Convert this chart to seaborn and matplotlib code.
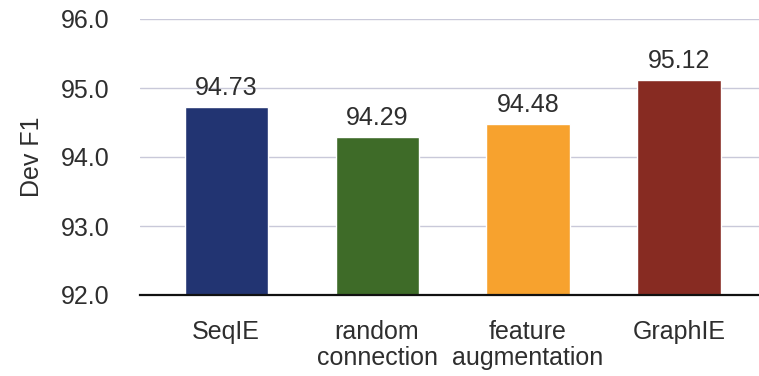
import matplotlib
matplotlib.use("Agg")
import matplotlib.pyplot as plt
import seaborn as sns
import pandas as pd

categories = ["SeqIE", "random\nconnection", "feature\naugmentation", "GraphIE"]
dev_f1 = [94.73, 94.29, 94.48, 95.12]
bar_colors = ["#223472", "#3E6B28", "#F7A22E", "#872B22"]
y_ticks = [92.0, 93.0, 94.0, 95.0, 96.0]

sns.set_theme(style="white")
plt.rcParams["font.family"] = ["Liberation Sans", "DejaVu Sans"]

df = pd.DataFrame({"model": categories, "f1": dev_f1})

fig = plt.figure(figsize=(7.59, 3.76), dpi=100)
ax = fig.add_axes([140 / 759, 1 - 295 / 376, 619 / 759, 276 / 376])

sns.barplot(data=df, x="model", y="f1", hue="model", palette=bar_colors,
            legend=False, width=0.55, saturation=1, ax=ax, zorder=3)

ax.set_ylim(92.0, 96.0)
ax.set_xlim(-0.57, 3.53)
ax.set_yticks(y_ticks)
ax.set_yticklabels([f"{t:.1f}" for t in y_ticks])
ax.yaxis.grid(True, color="#C9C9D9", linewidth=1.0, zorder=0)
ax.xaxis.grid(False)

for s in ["top", "right", "left"]:
    ax.spines[s].set_visible(False)
ax.spines["bottom"].set_color("#111111")
ax.spines["bottom"].set_linewidth(1.6)
ax.spines["bottom"].set_zorder(4)

text_color = "#2e2e2e"
ax.tick_params(axis="y", length=0, pad=22, labelsize=18, labelcolor=text_color)
ax.tick_params(axis="x", length=0, pad=18, labelsize=18, labelcolor=text_color)
for lbl in ax.get_xticklabels():
    lbl.set_linespacing(1.12)

ax.set_xlabel("")
ax.set_ylabel("Dev F1", fontsize=18, color=text_color, labelpad=12)

for i, v in enumerate(dev_f1):
    ax.annotate(f"{v:.2f}", (i, v), xytext=(0, 5), textcoords="offset points",
                ha="center", va="bottom", fontsize=18, color=text_color)

fig.savefig("out.png", dpi=100)
